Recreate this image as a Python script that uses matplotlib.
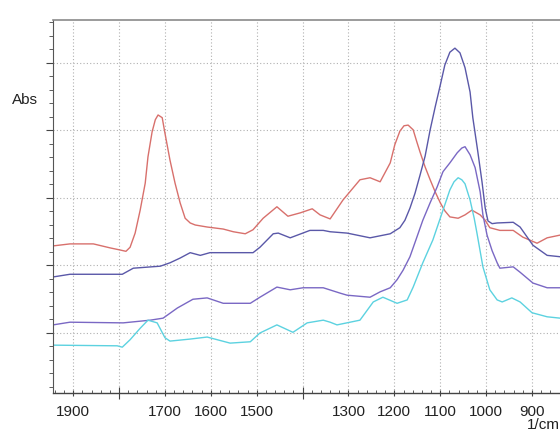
import matplotlib
matplotlib.use("Agg")
import matplotlib.pyplot as plt
from matplotlib.ticker import MultipleLocator

plt.rcParams['font.family'] = ['Liberation Sans', 'DejaVu Sans']

# Spectrum 1 (red)
red_wn = [1944, 1907, 1856, 1819, 1798, 1785, 1776, 1765, 1754, 1743, 1737, 1728, 1721, 1715,
          1706, 1700, 1689, 1678, 1667, 1656, 1645, 1634, 1608, 1573, 1551, 1525, 1508, 1486,
          1456, 1432, 1405, 1379, 1362, 1340, 1312, 1275, 1253, 1231, 1209, 1199, 1188, 1179,
          1170, 1159, 1151, 1144, 1133, 1122, 1111, 1100, 1090, 1079, 1061, 1046, 1031, 1013,
          1002, 992, 970, 941, 920, 889, 867, 839]
red_abs = [0.229, 0.232, 0.232, 0.226, 0.223, 0.221, 0.227, 0.248, 0.282, 0.322, 0.361, 0.398,
           0.416, 0.423, 0.419, 0.396, 0.356, 0.322, 0.293, 0.270, 0.263, 0.260, 0.257, 0.254,
           0.250, 0.247, 0.253, 0.270, 0.287, 0.273, 0.278, 0.284, 0.275, 0.269, 0.297, 0.327,
           0.330, 0.324, 0.352, 0.379, 0.399, 0.407, 0.408, 0.401, 0.383, 0.368, 0.346, 0.327,
           0.309, 0.293, 0.281, 0.272, 0.270, 0.275, 0.282, 0.275, 0.267, 0.256, 0.252, 0.252,
           0.242, 0.233, 0.241, 0.245]

# Spectrum 2 (dark blue, tallest peak)
blue_wn = [1944, 1907, 1793, 1769, 1710, 1689, 1667, 1645, 1623, 1602, 1508, 1493, 1464, 1453,
           1427, 1384, 1355, 1340, 1303, 1253, 1209, 1188, 1177, 1166, 1155, 1144, 1133, 1122,
           1111, 1100, 1090, 1079, 1068, 1057, 1046, 1035, 1029, 1018, 1009, 1002, 996, 987,
           976, 941, 926, 898, 867, 839]
blue_abs = [0.183, 0.187, 0.187, 0.196, 0.199, 0.204, 0.211, 0.219, 0.215, 0.219, 0.219, 0.227,
            0.247, 0.248, 0.241, 0.252, 0.252, 0.250, 0.248, 0.241, 0.247, 0.256, 0.267, 0.285,
            0.307, 0.334, 0.362, 0.401, 0.435, 0.467, 0.497, 0.516, 0.522, 0.515, 0.493, 0.457,
            0.419, 0.368, 0.324, 0.285, 0.266, 0.262, 0.263, 0.264, 0.257, 0.230, 0.215, 0.213]

# Spectrum 3 (purple)
purple_wn = [1944, 1907, 1791, 1732, 1704, 1673, 1639, 1608, 1573, 1514, 1493, 1456, 1427, 1399,
             1355, 1318, 1303, 1253, 1231, 1209, 1194, 1181, 1166, 1153, 1138, 1122, 1107, 1094,
             1079, 1063, 1053, 1046, 1035, 1024, 1013, 1007, 998, 987, 976, 970, 941, 926, 898,
             867, 839]
purple_abs = [0.112, 0.116, 0.115, 0.119, 0.122, 0.137, 0.150, 0.152, 0.144, 0.144, 0.153, 0.168,
              0.164, 0.167, 0.167, 0.159, 0.156, 0.153, 0.161, 0.167, 0.179, 0.193, 0.213, 0.238,
              0.267, 0.293, 0.316, 0.339, 0.352, 0.367, 0.374, 0.376, 0.364, 0.345, 0.309, 0.275,
              0.245, 0.222, 0.204, 0.196, 0.198, 0.190, 0.174, 0.167, 0.167]

# Spectrum 4 (cyan)
cyan_wn = [1944, 1804, 1793, 1776, 1754, 1737, 1717, 1700, 1689, 1645, 1608, 1558, 1514, 1493,
           1456, 1421, 1390, 1355, 1340, 1325, 1275, 1246, 1225, 1194, 1172, 1159, 1138, 1116,
           1094, 1079, 1070, 1061, 1053, 1046, 1035, 1026, 1020, 1007, 992, 976, 965, 944, 926,
           900, 867, 839]
cyan_abs = [0.082, 0.081, 0.079, 0.090, 0.107, 0.119, 0.115, 0.093, 0.088, 0.091, 0.094, 0.085,
            0.087, 0.100, 0.112, 0.101, 0.115, 0.119, 0.116, 0.112, 0.119, 0.146, 0.153, 0.144,
            0.149, 0.168, 0.204, 0.238, 0.282, 0.312, 0.324, 0.330, 0.327, 0.321, 0.297, 0.270,
            0.248, 0.198, 0.164, 0.149, 0.146, 0.152, 0.146, 0.130, 0.124, 0.122]

x_ticks = [1900, 1800, 1700, 1600, 1500, 1400, 1300, 1200, 1100, 1000, 900]
x_ticklabels = ['1900', '', '1700', '1600', '1500', '', '1300', '1200', '1100', '1000', '900']

fig = plt.figure(figsize=(5.6, 4.33), dpi=100)
ax = fig.add_axes([53/560, 1 - 393/433, 507/560, (393 - 20)/433])

ax.plot(red_wn, red_abs, color='#d8706c', lw=1.0)
ax.plot(blue_wn, blue_abs, color='#5a58a8', lw=1.0)
ax.plot(purple_wn, purple_abs, color='#7a68c4', lw=1.0)
ax.plot(cyan_wn, cyan_abs, color='#5cd2e0', lw=1.0)

ax.set_xlim(1944, 839)
ax.set_ylim(0.0111, 0.5637)

ax.set_xticks(x_ticks)
ax.set_xticklabels(x_ticklabels, fontsize=11, color='#222222')
ax.xaxis.set_minor_locator(MultipleLocator(20))
ax.set_yticks([0.1, 0.2, 0.3, 0.4, 0.5])
ax.set_yticklabels([])
ax.yaxis.set_minor_locator(MultipleLocator(0.02))

ax.tick_params(axis='x', which='major', direction='inout', length=5, width=0.8, color='#444444', pad=6)
ax.tick_params(axis='x', which='minor', direction='in', length=2.5, width=0.6, color='#444444')
ax.tick_params(axis='y', which='major', direction='out', length=5, width=0.8, color='#444444')
ax.tick_params(axis='y', which='minor', direction='out', length=3, width=0.6, color='#444444')
for i, t in enumerate(ax.xaxis.get_major_ticks()):
    if x_ticklabels[i] == '':
        t.tick1line.set_markersize(9)

ax.grid(True, which='major', linestyle=(0, (1, 2)), color='#b0b0b0', linewidth=0.8)
ax.set_axisbelow(True)

ax.spines['right'].set_visible(False)
ax.spines['top'].set_color('#8a8a8a')
ax.spines['top'].set_linewidth(1.2)
ax.spines['left'].set_color('#555555')
ax.spines['bottom'].set_color('#444444')
ax.spines['left'].set_linewidth(0.8)
ax.spines['bottom'].set_linewidth(1.0)

fig.text(12/560, 1 - 100/433, 'Abs', fontsize=11, color='#222222', ha='left', va='center')
fig.text(527/560, 1 - 425/433, '1/cm', fontsize=11, color='#222222', ha='left', va='center')

fig.savefig('out.png', dpi=100)
